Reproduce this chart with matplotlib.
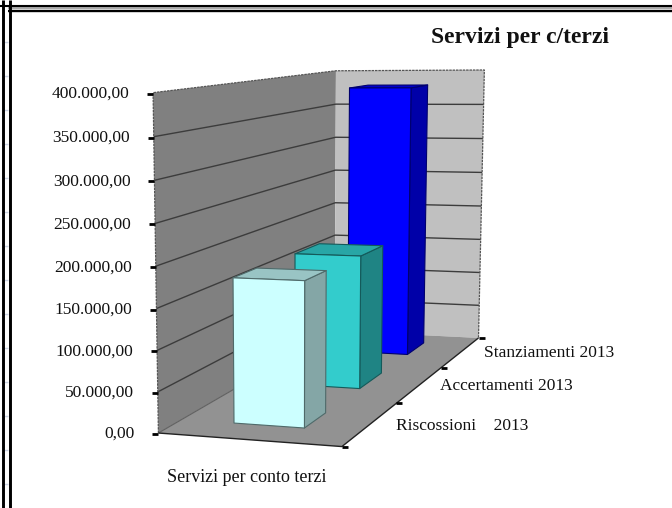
import numpy as np
import matplotlib
matplotlib.use("Agg")
import matplotlib.pyplot as plt
from matplotlib.patches import Polygon

plt.rcParams["font.family"] = ["Liberation Serif", "DejaVu Serif"]

# values
categories = ["Riscossioni    2013", "Accertamenti 2013", "Stanziamenti 2013"]
group_label = "Servizi per conto terzi"
values = [178000, 176000, 381000]
y_ticks = [0, 50000, 100000, 150000, 200000, 250000, 300000, 350000, 400000]
y_tick_labels = ["0,00", "50.000,00", "100.000,00", "150.000,00", "200.000,00",
                 "250.000,00", "300.000,00", "350.000,00", "400.000,00"]
title = "Servizi per c/terzi"
y_max = 400000

# bar look
front_cols = ["#ccffff", "#33cccc", "#0000ff"]
side_cols = ["#84a6a6", "#1f8484", "#0000a8"]
top_cols = ["#99c4c4", "#28a6a6", "#0000cc"]
edge_cols = ["#4f6a6a", "#145a5a", "#00006e"]
depth_start = [0.105, 0.435, 0.78]
depth_end = [0.224, 0.584, 0.913]
bar_x0, bar_x1 = 0.30, 0.695

# camera fitted on the box corners seen in the picture: (x, depth, value) -> pixel
model_pts = [(0, 0, 0), (1, 0, 0), (0, 1, 0), (1, 1, 0),
             (0, 0, 1), (0, 1, 1), (1, 1, 1),
             (1, 1 / 3, 0), (1, 2 / 3, 0), (0, 0, 0.5)]
pixel_pts = [(160, 432), (341, 449), (333, 333), (479, 336),
             (152, 93), (337, 70), (484, 71),
             (396, 403), (442, 367), (156, 265)]

A, b = [], []
for (x, d, v), (px, py) in zip(model_pts, pixel_pts):
    A.append([x, d, v, 1, 0, 0, 0, 0, -px * x, -px * d, -px * v])
    A.append([0, 0, 0, 0, x, d, v, 1, -py * x, -py * d, -py * v])
    b += [px, py]
m = np.linalg.lstsq(np.array(A, float), np.array(b, float), rcond=None)[0]
P = np.append(m, 1).reshape(3, 4)


def proj(x, d, val):
    p = P @ np.array([x, d, val / y_max, 1])
    return p[0] / p[2], p[1] / p[2]


fig = plt.figure(figsize=(6.72, 5.08), dpi=100)
ax = fig.add_axes([0, 0, 1, 1])
ax.set_xlim(0, 672)
ax.set_ylim(508, 0)
ax.axis("off")

# painter's order, everything gets the next zorder
z = [1]


def nz():
    z[0] += 1
    return z[0]


def face(pts, col, edge="none", lw=0.8):
    ax.add_patch(Polygon(pts, fc=col, ec=edge, lw=lw, joinstyle="round", zorder=nz()))


def line(pts, **kw):
    pts = np.array(pts)
    ax.plot(pts[:, 0], pts[:, 1], zorder=nz(), solid_capstyle="butt", **kw)


# outer double frame
for y in range(42, 508, 34):
    line([(4, y), (8, y)], color="#cdd5e5", lw=1)
line([(8, 8.3), (672, 8.3)], color="#9a9a9a", lw=1.2)
line([(0, 6), (672, 6)], color="black", lw=1.5)
line([(8, 10.7), (672, 10.7)], color="black", lw=1.7)
line([(2.5, 0), (2.5, 508)], color="black", lw=2.1)
line([(9.5, 0), (9.5, 508)], color="black", lw=2.1)

# walls and floor
face([proj(0, 0, 0), proj(0, 1, 0), proj(0, 1, y_max), proj(0, 0, y_max)], "#808080")
face([proj(0, 1, 0), proj(1, 1, 0), proj(1, 1, y_max), proj(0, 1, y_max)], "#c0c0c0")

# gridlines round the two walls
for t in y_ticks[1:-1]:
    line([proj(0, 0, t), proj(0, 1, t), proj(1, 1, t)], color="#3c3c3c", lw=1.0)
line([proj(0, 0, 0), proj(0, 0, y_max), proj(0, 1, y_max), proj(1, 1, y_max), proj(1, 1, 0)],
     color="#555555", lw=0.9, ls=(0, (2, 0.7)))

face([proj(0, 0, 0), proj(1, 0, 0), proj(1, 1, 0), proj(0, 1, 0)], "#929292")
line([proj(0, 1, 0), proj(0, 0, 0)], color="#606060", lw=0.8)
line([proj(0, 0, 0), proj(1, 0, 0), proj(1, 1, 0)], color="#222222", lw=1.0)

# value axis ticks and labels
for t, lab in zip(y_ticks, y_tick_labels):
    px, py = proj(0, 0, t)
    line([(px - 6, py + 1), (px, py + 1)], color="black", lw=2)
    ax.text(px - 24, py + 1, lab, ha="right", va="center", fontsize=12.5, color="#111111", zorder=50)

# depth axis ticks
for i in range(4):
    px, py = proj(1, i / 3, 0)
    line([(px, py), (px + 6, py)], color="black", lw=2)

# bars, back one first
for i in [2, 1, 0]:
    d0, d1, val = depth_start[i], depth_end[i], values[i]
    face([proj(bar_x1, d0, 0), proj(bar_x1, d1, 0), proj(bar_x1, d1, val), proj(bar_x1, d0, val)],
         side_cols[i], edge_cols[i])
    face([proj(bar_x0, d0, val), proj(bar_x1, d0, val), proj(bar_x1, d1, val), proj(bar_x0, d1, val)],
         top_cols[i], edge_cols[i])
    face([proj(bar_x0, d0, 0), proj(bar_x1, d0, 0), proj(bar_x1, d0, val), proj(bar_x0, d0, val)],
         front_cols[i], edge_cols[i])

# text
label_offsets = [(0, 23), (-1, 18), (5, 15)]
for i, lab in enumerate(categories):
    px, py = proj(1, [1 / 3, 2 / 3, 1][i], 0)
    ax.text(px + label_offsets[i][0], py + label_offsets[i][1], lab, ha="left", va="center",
            fontsize=12.5, color="#111111", zorder=50)
ax.text(247, 478, group_label, ha="center", va="center", fontsize=13, color="#111111", zorder=50)
ax.text(520, 37, title, ha="center", va="center", fontsize=17, fontweight="bold", color="#111111", zorder=50)

fig.savefig("out.png", dpi=100)
